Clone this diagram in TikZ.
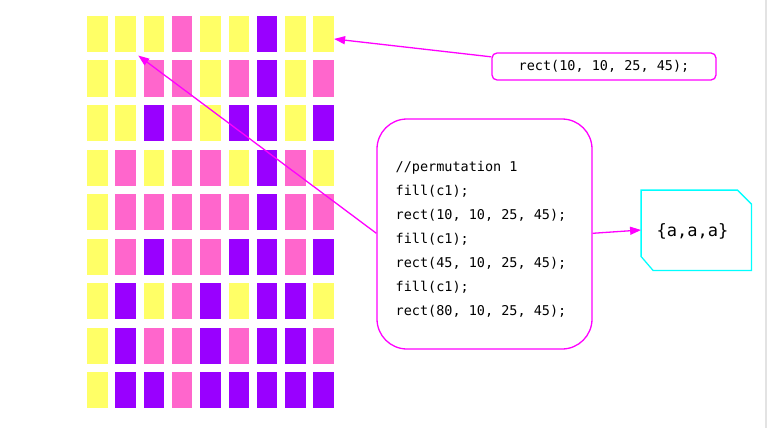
\documentclass[tikz,border=0pt]{standalone}
\usepackage{fontspec}
\newfontfamily\codefont{DejaVu Sans Mono}
\usetikzlibrary{arrows.meta,calc}
\definecolor{cY}{HTML}{FFFF66}
\definecolor{cP}{HTML}{FF66CC}
\definecolor{cV}{HTML}{9900FF}
\definecolor{mag}{HTML}{FF00FF}
\definecolor{cyn}{HTML}{00FFFF}
\tikzset{
  cell/.style={draw=none, inner sep=0pt, minimum width=20.5pt, minimum height=36.3pt},
  conn/.style={draw=mag, line width=1.3pt, -{Triangle[length=11pt,width=8pt]}},
  codebox/.style={draw=mag, line width=1.3pt, rounded corners=30pt, fill=white,
    minimum width=215pt, minimum height=230pt, inner sep=0pt},
  codetext/.style={align=left, inner sep=0pt,
    font=\codefont\fontsize{13.5pt}{24pt}\selectfont},
  labelbox/.style={draw=mag, line width=1.3pt, rounded corners=5pt, fill=white,
    minimum width=224pt, minimum height=27pt, inner sep=0pt,
    font=\codefont\fontsize{13.5pt}{16pt}\selectfont},
  setbox/.style={draw=none, minimum width=110pt, minimum height=80pt, inner sep=0pt},
  setedge/.style={draw=cyn, line width=1.3pt, line join=miter},
  settext/.style={inner sep=0pt, font=\codefont\fontsize{17pt}{20pt}\selectfont}
}
\begin{document}
\begin{tikzpicture}[x=1pt,y=-1pt]
\useasboundingbox (0,0) rectangle (768,428);
\fill[white] (0,0) rectangle (768,428);
\draw[gray!22, line width=2pt] (766,0) -- (766,428);
\foreach \row [count=\i] in {
  {Y,Y,Y,P,Y,Y,V,Y,Y},
  {Y,Y,P,P,Y,P,V,Y,P},
  {Y,Y,V,P,Y,V,V,Y,V},
  {Y,P,Y,P,P,Y,V,P,Y},
  {Y,P,P,P,P,P,V,P,P},
  {Y,P,V,P,P,V,V,P,V},
  {Y,V,Y,P,V,Y,V,V,Y},
  {Y,V,P,P,V,P,V,V,P},
  {Y,V,V,P,V,V,V,V,V}} {
  \foreach \c [count=\j] in \row {
    \node[cell, fill=c\c] (r-\i-\j) at ({97.25+(\j-1)*28.3},{34.15+(\i-1)*44.5}) {};
  }
}
\node[codebox] (code) at (484.5,234) {};
\node[codetext] (codetxt) at (481,239) {//permutation 1\\fill(c1);\\rect(10, 10, 25, 45);\\fill(c1);\\rect(45, 10, 25, 45);\\fill(c1);\\rect(80, 10, 25, 45);};
\node[labelbox] (lbl) at (604,66.5) {rect(10, 10, 25, 45);};
\node[setbox] (set) at (696.3,230.3) {};
\draw[setedge] (set.north west) -- ($(set.north east)+(-14,0)$) -- ($(set.north east)+(0,14)$)
  -- (set.south east) -- ($(set.south west)+(12,0)$) -- ($(set.south west)+(0,-14)$) -- cycle;
\node[settext] (settxt) at (692.5,231) {\{a,a,a\}};
\draw[conn] ($(lbl.north west)+(0,4.5)$) -- ($(r-1-9.east)+(0,4.8)$);
\draw[conn] ($(code.west)+(0,-0.7)$) -- ($(r-1-2.south east)+(2.2,3)$);
\draw[conn] ($(code.east)+(0,-0.7)$) -- ($(set.west)+(0,-0.3)$);
\end{tikzpicture}
\end{document}
